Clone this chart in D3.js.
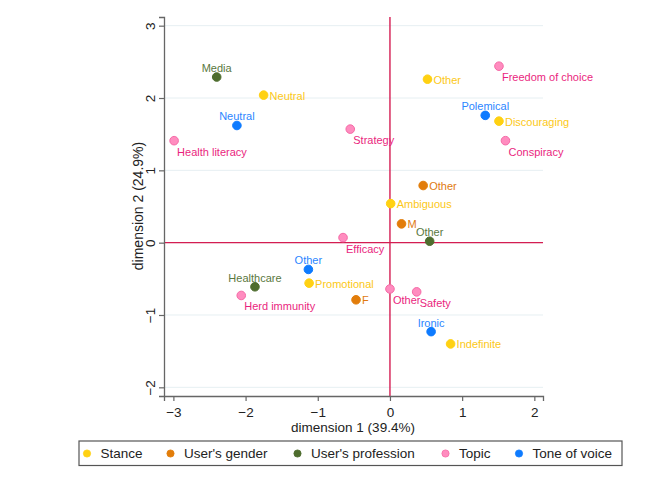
<!DOCTYPE html>
<html>
<head>
<meta charset="utf-8">
<script src="https://cdn.jsdelivr.net/npm/d3@7"></script>
<style>
  html, body { margin: 0; padding: 0; background: #fff; }
  svg { display: block; font-family: "Liberation Sans", Arial, sans-serif; }
</style>
</head>
<body>
<svg id="chart" width="669" height="487"></svg>
<script>
// ---- data ----
const labels = ["Media", "Neutral", "Neutral", "Health literacy", "Strategy", "Other",
  "Freedom of choice", "Polemical", "Discouraging", "Conspiracy", "Other", "Ambiguous",
  "M", "Other", "Efficacy", "Other", "Promotional", "Healthcare", "Herd immunity", "F",
  "Other", "Safety", "Ironic", "Indefinite"];
const groups = ["User's profession", "Stance", "Tone of voice", "Topic", "Topic", "Stance",
  "Topic", "Tone of voice", "Stance", "Topic", "User's gender", "Stance",
  "User's gender", "User's profession", "Topic", "Tone of voice", "Stance", "User's profession", "Topic", "User's gender",
  "Topic", "Topic", "Tone of voice", "Stance"];
const dim1 = [-2.40, -1.75, -2.12, -2.99, -0.55, 0.52, 1.51, 1.32, 1.51, 1.60, 0.46, 0.01,
  0.16, 0.55, -0.65, -1.13, -1.12, -1.87, -2.06, -0.47, 0.00, 0.37, 0.57, 0.84];
const dim2 = [2.29, 2.04, 1.62, 1.41, 1.57, 2.26, 2.44, 1.76, 1.68, 1.41, 0.79, 0.54,
  0.26, 0.02, 0.07, -0.37, -0.56, -0.61, -0.73, -0.79, -0.64, -0.68, -1.23, -1.40];
const labelPos = ["t", "r", "t", "br", "br", "r", "br", "t", "r", "br", "r", "r",
  "r", "t", "br", "t", "r", "t", "br", "r", "br", "br", "t", "r"];
const legendGroups = ["Stance", "User's gender", "User's profession", "Topic", "Tone of voice"];
const xTicks = [-3, -2, -1, 0, 1, 2];
const yTicks = [-2, -1, 0, 1, 2, 3];
const xTitle = "dimension 1 (39.4%)";
const yTitle = "dimension 2 (24.9%)";

// ---- styles ----
const fillColor = d3.scaleOrdinal().domain(legendGroups)
  .range(["#ffd112", "#e27d0a", "#4e6d2e", "#ff8cbf", "#0e7bff"]);
const strokeColor = d3.scaleOrdinal().domain(legendGroups)
  .range(["#ffd112", "#e27d0a", "#4e6d2e", "#f56aa6", "#0e7bff"]);
const textColor = d3.scaleOrdinal().domain(legendGroups)
  .range(["#fcc816", "#e07a10", "#5a7840", "#ea1f7e", "#2b86ff"]);

const svg = d3.select("#chart");
const x = d3.scaleLinear().domain([-3.13, 2.12]).range([164, 543]);
const y = d3.scaleLinear().domain([-2.12, 3.12]).range([396, 17]);

// gridlines
svg.append("g").selectAll("line").data(yTicks).join("line")
  .attr("x1", x.range()[0]).attr("x2", x.range()[1])
  .attr("y1", d => y(d)).attr("y2", d => y(d))
  .attr("stroke", "#e6eff2").attr("stroke-width", 1);

// reference lines
svg.append("line").attr("x1", x(0)).attr("x2", x(0)).attr("y1", y.range()[1]).attr("y2", y.range()[0])
  .attr("stroke", "#d41d52").attr("stroke-width", 1.4);
svg.append("line").attr("x1", x.range()[0]).attr("x2", x.range()[1]).attr("y1", y(0)).attr("y2", y(0))
  .attr("stroke", "#d41d52").attr("stroke-width", 1.4);

// axes
const xAxis = svg.append("g").attr("transform", `translate(0,${y.range()[0]})`)
  .call(d3.axisBottom(x).tickValues(xTicks).tickSize(5).tickPadding(4).tickFormat(d3.format("d")));
const yAxis = svg.append("g").attr("transform", `translate(${x.range()[0]},0)`)
  .call(d3.axisLeft(y).tickValues(yTicks).tickSize(5).tickPadding(4).tickFormat(d3.format("d")));
[xAxis, yAxis].forEach(a => {
  a.select(".domain").attr("stroke", "#666").attr("stroke-width", 1.3);
  a.selectAll(".tick line").attr("stroke", "#666").attr("stroke-width", 1.2);
  a.selectAll(".tick text").attr("fill", "#222").attr("font-size", 13.5)
    .attr("font-family", "'Liberation Sans', Arial, sans-serif");
});
xAxis.selectAll(".tick text").attr("y", 21).attr("dy", null);
yAxis.selectAll(".tick text")
  .attr("text-anchor", "middle").attr("x", null).attr("dy", null)
  .attr("transform", "translate(-14,0) rotate(-90)")
  .attr("dominant-baseline", "central");

// axis titles
svg.append("text").attr("x", 353).attr("y", 432).attr("text-anchor", "middle")
  .attr("font-size", 13.5).attr("fill", "#222").text(xTitle);
svg.append("text").attr("transform", "translate(138,206) rotate(-90)")
  .attr("text-anchor", "middle").attr("dominant-baseline", "central")
  .attr("font-size", 14).attr("fill", "#222").text(yTitle);

// points
const pts = labels.map((l, i) => ({ label: l, group: groups[i], x: dim1[i], y: dim2[i], pos: labelPos[i] }));
const pg = svg.append("g");
pg.selectAll("circle").data(pts).join("circle")
  .attr("cx", d => x(d.x)).attr("cy", d => y(d.y)).attr("r", 4.3)
  .attr("fill", d => fillColor(d.group))
  .attr("stroke", d => strokeColor(d.group)).attr("stroke-width", 1);

pg.selectAll("text").data(pts).join("text")
  .attr("font-size", 11)
  .attr("fill", d => textColor(d.group))
  .attr("dominant-baseline", "central")
  .attr("x", d => x(d.x) + (d.pos === "r" ? 6 : d.pos === "br" ? 3 : 0))
  .attr("y", d => y(d.y) + (d.pos === "t" ? -9 : d.pos === "br" ? 11 : 0.5))
  .attr("text-anchor", d => d.pos === "t" ? "middle" : "start")
  .text(d => d.label);

// legend
const lg = svg.append("g");
lg.append("rect").attr("x", 79).attr("y", 441).attr("width", 543).attr("height", 24.5)
  .attr("fill", "#fff").attr("stroke", "#555").attr("stroke-width", 1.2);
const legendX = [87, 170.5, 297.5, 445.5, 519];
legendGroups.forEach((g, i) => {
  lg.append("circle").attr("cx", legendX[i]).attr("cy", 453.5).attr("r", 3.6)
    .attr("fill", fillColor(g)).attr("stroke", strokeColor(g)).attr("stroke-width", 0.8);
  lg.append("text").attr("x", legendX[i] + 13.5).attr("y", 453.5)
    .attr("dominant-baseline", "central").attr("font-size", 13.5).attr("fill", "#222").text(g);
});
</script>
</body>
</html>
